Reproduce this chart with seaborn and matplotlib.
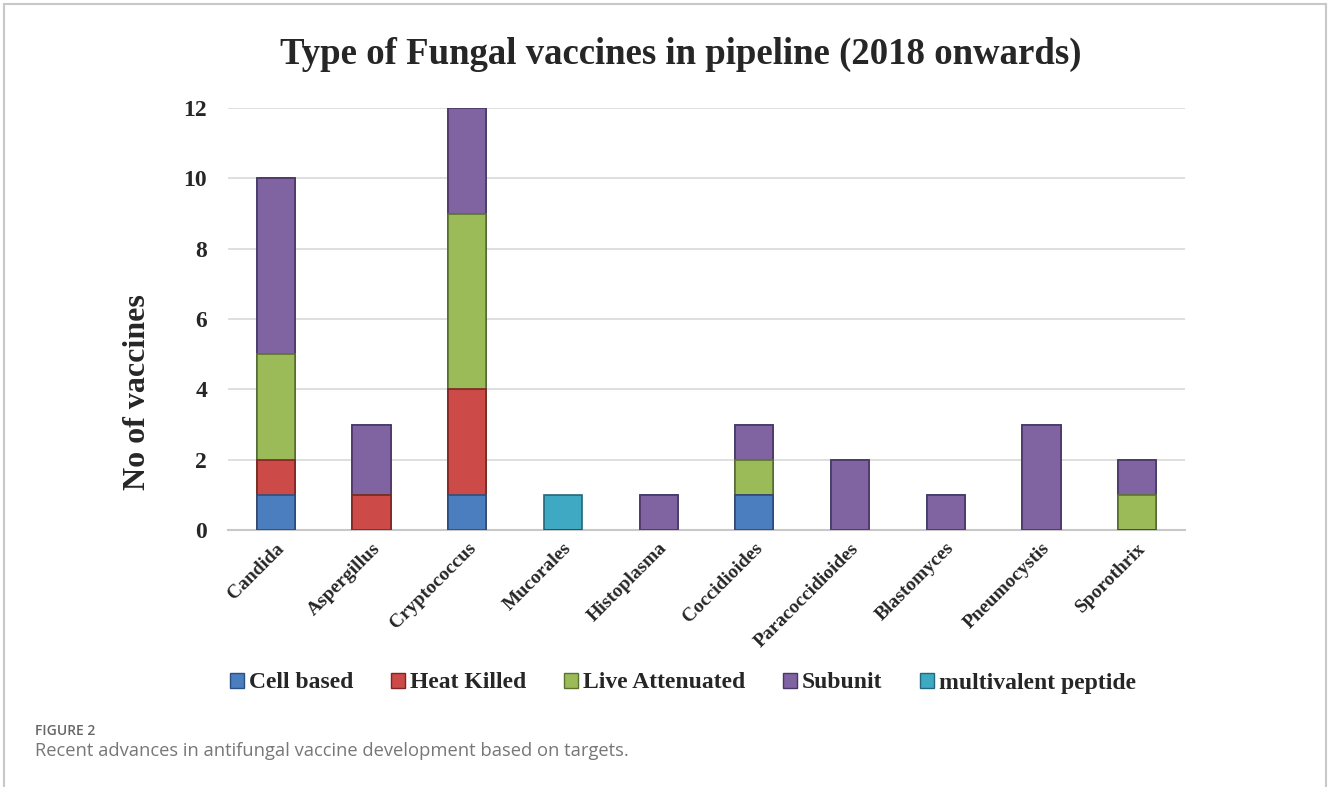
import numpy as np
import pandas as pd
import matplotlib.pyplot as plt
import seaborn as sns
from matplotlib.patches import Patch
from matplotlib.lines import Line2D

# data
fungi = ['Candida', 'Aspergillus', 'Cryptococcus', 'Mucorales', 'Histoplasma',
         'Coccidioides', 'Paracoccidioides', 'Blastomyces', 'Pneumocystis', 'Sporothrix']
cell_based = [1, 0, 1, 0, 0, 1, 0, 0, 0, 0]
heat_killed = [1, 1, 3, 0, 0, 0, 0, 0, 0, 0]
live_attenuated = [3, 0, 5, 0, 0, 1, 0, 0, 0, 1]
subunit = [5, 2, 3, 0, 1, 1, 2, 1, 3, 1]
multivalent = [0, 0, 0, 1, 0, 0, 0, 0, 0, 0]

series = ['Cell based', 'Heat Killed', 'Live Attenuated', 'Subunit', 'multivalent peptide']
colors = ['#4a7ebf', '#cc4b48', '#9bbb59', '#8064a2', '#3fa9c4']
edges = ['#2a4f80', '#7d2523', '#5b7330', '#4a3566', '#23687a']

df = pd.DataFrame({'fungus': fungi, 'Cell based': cell_based, 'Heat Killed': heat_killed,
                   'Live Attenuated': live_attenuated, 'Subunit': subunit,
                   'multivalent peptide': multivalent})
cum = df[series].cumsum(axis=1)

sns.set_style('white')
plt.rcParams['font.family'] = ['Liberation Serif', 'DejaVu Serif']

fig = plt.figure(figsize=(13.28, 7.87), dpi=100)
ax = fig.add_axes([228 / 1328, 1 - 530 / 787, (1185 - 228) / 1328, (530 - 108) / 787])

# stacked bars: draw cumulative totals from the top layer down
for i in range(len(series) - 1, -1, -1):
    s = series[i]
    sns.barplot(x=df['fungus'], y=cum[s], color=colors[i], width=0.4,
                edgecolor=edges[i], linewidth=1.2, saturation=1, ax=ax, zorder=3)

ax.set_ylim(0, 12)
ax.set_xlim(-0.5, len(fungi) - 0.5)
ax.yaxis.grid(True, color='#d9d9d9', linewidth=1.2, zorder=0)
ax.set_axisbelow(True)
for sp in ['top', 'right', 'left']:
    ax.spines[sp].set_visible(False)
ax.spines['bottom'].set_color('#c8c8c8')
ax.spines['bottom'].set_linewidth(1.5)
ax.tick_params(axis='both', length=0)
ax.tick_params(axis='y', pad=15)

ax.set_yticks(range(0, 13, 2))
ax.set_yticklabels([str(v) for v in range(0, 13, 2)], fontsize=17, fontweight='bold')
ax.set_xticks(range(len(fungi)))
ax.set_xticklabels(fungi, rotation=45, ha='right', rotation_mode='anchor',
                   fontsize=14, fontweight='bold')
ax.tick_params(axis='x', pad=7)
ax.set_xlabel('')
ax.set_ylabel('No of vaccines', fontsize=23, fontweight='bold')
ax.yaxis.set_label_coords((152 - 228) / 957, 1 - (392 - 108) / 422)

fig.text(681 / 1328, 1 - 54 / 787, 'Type of Fungal vaccines in pipeline (2018 onwards)',
         ha='center', va='center', fontsize=26.5, fontweight='bold')

handles = [Patch(facecolor=c, edgecolor=e, linewidth=1) for c, e in zip(colors, edges)]
fig.legend(handles, series, loc='center', bbox_to_anchor=(683 / 1328, 1 - 683 / 787),
           ncol=5, frameon=False, handlelength=0.6, handleheight=0.6, handletextpad=0.2,
           columnspacing=1.6, prop={'family': 'Liberation Serif', 'weight': 'bold', 'size': 17})

# caption and frame
fig.text(35 / 1328, 1 - 731 / 787, 'FIGURE 2', ha='left', va='center', fontsize=10,
         fontweight='semibold', color='#666666', family=['Open Sans', 'DejaVu Sans'])
fig.text(35 / 1328, 1 - 751 / 787, 'Recent advances in antifungal vaccine development based on targets.',
         ha='left', va='center', fontsize=13.2, color='#777777', family=['Open Sans', 'DejaVu Sans'])
fr = dict(color='#c8c8c8', linewidth=1.5, transform=fig.transFigure)
fig.add_artist(Line2D([4 / 1328, 1326 / 1328], [1 - 4 / 787, 1 - 4 / 787], **fr))
fig.add_artist(Line2D([4 / 1328, 4 / 1328], [0, 1 - 4 / 787], **fr))
fig.add_artist(Line2D([1326 / 1328, 1326 / 1328], [0, 1 - 4 / 787], **fr))

fig.savefig('out.png', dpi=100)
